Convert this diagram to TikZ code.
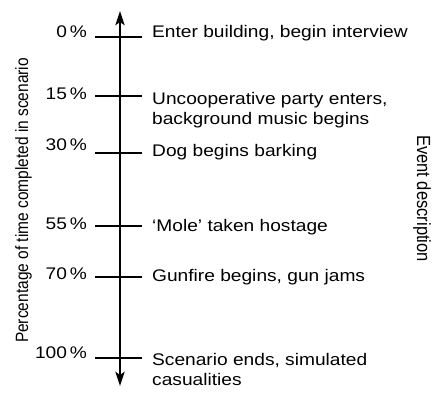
\documentclass[tikz,border=0pt]{standalone}
\usepackage{fontspec}
\setmainfont{Liberation Sans}[FakeStretch=1.14]
\newfontfamily\narrowfont{Liberation Sans}[FakeStretch=0.87]
\usepackage{tikz}
\usetikzlibrary{positioning, arrows.meta}

% mehrzeiliger Text, Grundlinie der ersten Zeile
\newcommand{\eventlines}[1]{\begin{tabular}[t]{@{}l@{}}#1\end{tabular}}

\begin{document}
\begin{tikzpicture}[
        x=1pt, y=-1pt,
        font=\fontsize{16.8}{20.8}\selectfont,
        axis/.style = {{Stealth[length=14pt, width=9pt, inset=3pt]}-{Stealth[length=14pt, width=9pt, inset=3pt]}, line width=2.9pt},
        tick/.style = {line width=1.3pt},
        pct/.style = {anchor=base east, inner sep=0pt},
        event/.style = {anchor=base west, inner sep=0pt},
        title/.style = {anchor=base, inner sep=0pt}
        ]
    \useasboundingbox (0,0) rectangle (437,392);

        % Zeitachse
        \coordinate (top) at (120,11);
        \coordinate (bottom) at (120,386);
        \draw[axis] (bottom) -- (top);

        % Markierungen
        \coordinate (t0) at (120,37);
        \coordinate (t15) at (120,96);
        \coordinate (t30) at (120,153);
        \coordinate (t55) at (120,226);
        \coordinate (t70) at (120,277);
        \coordinate (t100) at (120,358);
        \foreach \t in {t0, t15, t30, t55, t70, t100}
            \draw[tick] ([xshift=-25pt]\t) -- ([xshift=22pt]\t);

        % Prozent
        \node[pct] (p0) at (87,37.5) {0\,\%};
        \node[pct] (p15) at (87,99) {15\,\%};
        \node[pct] (p30) at (87,150) {30\,\%};
        \node[pct] (p55) at (87,229) {55\,\%};
        \node[pct] (p70) at (87,279) {70\,\%};
        \node[pct] (p100) at (87,358) {100\,\%};

        % Ereignisse
        \node[event] (e0) at (152,37.5) {Enter building, begin interview};
        \node[event] (e15) at (152,104) {\eventlines{Uncooperative party enters,\\background music begins}};
        \node[event] (e30) at (152,156) {Dog begins barking};
        \node[event] (e55) at (152,231) {`Mole' taken hostage};
        \node[event] (e70) at (152,281) {Gunfire begins, gun jams};
        \node[event] (e100) at (152,365) {\eventlines{Scenario ends, simulated\\casualities}};

        % Achsentitel
        \node[title, rotate=90, font=\narrowfont\fontsize{17.8}{20}\selectfont] (ylabel) at (28,200.5) {Percentage of time completed in scenario};
        \node[title, rotate=-90, font=\narrowfont\fontsize{19}{22}\selectfont] (elabel) at (417,198.5) {Event description};

\end{tikzpicture}
\end{document}
